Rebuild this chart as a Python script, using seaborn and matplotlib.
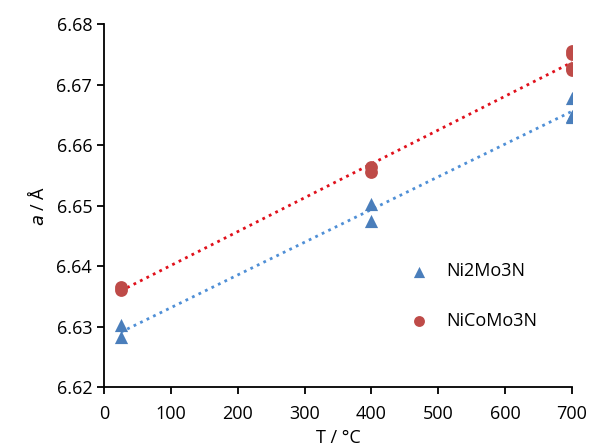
import numpy as np
import pandas as pd
import matplotlib
matplotlib.use("Agg")
import matplotlib.pyplot as plt
import seaborn as sns

# Data
ni2_T = [25, 25, 400, 400, 700, 700, 700]
ni2_a = [6.6302, 6.6283, 6.6503, 6.6475, 6.6678, 6.6648, 6.6646]
nico_T = [25, 25, 400, 400, 700, 700, 700, 700]
nico_a = [6.6366, 6.6360, 6.6563, 6.6556, 6.6755, 6.6750, 6.6728, 6.6724]
xticks = [0, 100, 200, 300, 400, 500, 600, 700]
yticks = [6.62, 6.63, 6.64, 6.65, 6.66, 6.67, 6.68]

df1 = pd.DataFrame({"T": ni2_T, "a": ni2_a})
df2 = pd.DataFrame({"T": nico_T, "a": nico_a})

sns.set_style("ticks")
plt.rcParams['font.family'] = ['Open Sans', 'DejaVu Sans']
plt.rcParams['text.color'] = 'black'
plt.rcParams['axes.labelcolor'] = 'black'
plt.rcParams['xtick.color'] = 'black'
plt.rcParams['ytick.color'] = 'black'

fig = plt.figure(figsize=(5.91, 4.48), dpi=100)
ax = fig.add_axes([104/591, 1-387/448, (572-104)/591, (387-24)/448])

blue = "#4a7ebb"
red = "#be4b48"

sns.regplot(data=df1, x="T", y="a", ax=ax, ci=None, marker="^", label="Ni2Mo3N",
            scatter_kws=dict(s=90, color=blue, linewidths=0, alpha=1, zorder=3),
            line_kws=dict(color="#4f8fd6", linestyle=(0, (1, 1.6)), linewidth=2, zorder=2, label="_nolegend_"))
sns.regplot(data=df2, x="T", y="a", ax=ax, ci=None, marker="o", label="NiCoMo3N",
            scatter_kws=dict(s=85, color=red, linewidths=0, alpha=1, zorder=3),
            line_kws=dict(color="#e0101b", linestyle=(0, (1, 1.6)), linewidth=2, zorder=2, label="_nolegend_"))

ax.set_xlim(0, 700)
ax.set_ylim(6.62, 6.68)
ax.set_xticks(xticks)
ax.set_yticks(yticks)
ax.set_yticklabels([f"{v:.2f}" for v in yticks])
ax.tick_params(axis='both', labelsize=13, direction='out', length=5, width=1.3, color='black')
ax.tick_params(axis='x', pad=8)
for side in ["top", "right"]:
    ax.spines[side].set_visible(False)
for side in ["left", "bottom"]:
    ax.spines[side].set_linewidth(1.3)
    ax.spines[side].set_color("black")

ax.set_xlabel("T / °C", fontsize=13, labelpad=4)
ax.set_ylabel(r"$\it{a}$ / Å", fontsize=13, labelpad=6)

handles, labels = ax.get_legend_handles_labels()
keep = [(h, l) for h, l in zip(handles, labels) if l in ("Ni2Mo3N", "NiCoMo3N")]
leg = ax.legend([k[0] for k in keep], [k[1] for k in keep],
                loc="upper left", bbox_to_anchor=(0.6, 0.388), frameon=False,
                fontsize=13, labelspacing=1.75, handletextpad=0.5, markerscale=0.85)

fig.savefig("out.png", dpi=100)
